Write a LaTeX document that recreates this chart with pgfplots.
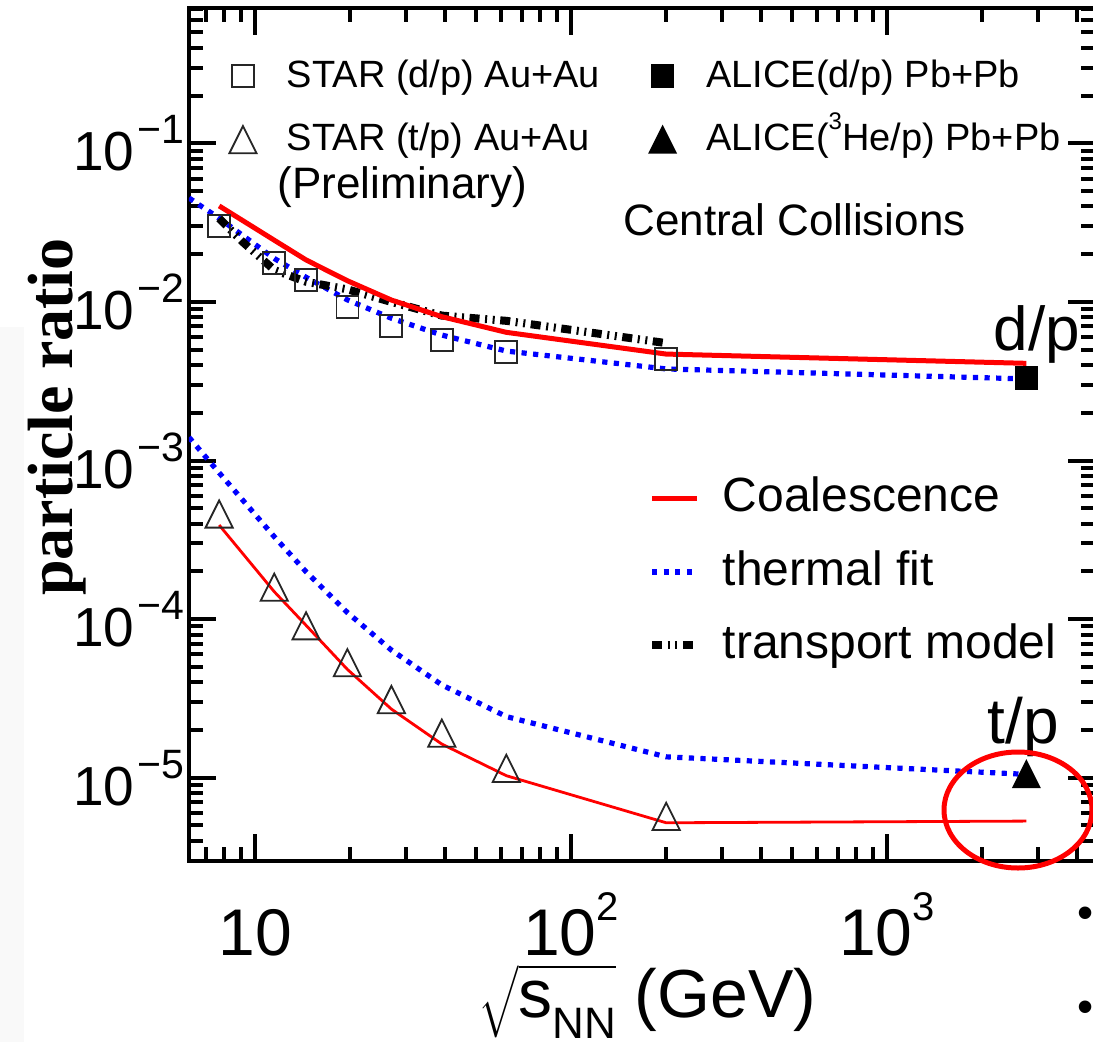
\documentclass[border=0pt]{standalone}
\usepackage{pgfplots}
\pgfplotsset{compat=1.18}
\usepackage{fontspec}
\setmainfont{Liberation Sans}
\newfontfamily\timesfont{Liberation Serif}

% ROOT-style triangles: base corners at (-r,-r) and (r,-r), apex at (0,r)
\pgfdeclareplotmark{rtri}{%
  \pgfpathmoveto{\pgfqpoint{-\pgfplotmarksize}{-\pgfplotmarksize}}%
  \pgfpathlineto{\pgfqpoint{\pgfplotmarksize}{-\pgfplotmarksize}}%
  \pgfpathlineto{\pgfqpoint{0pt}{\pgfplotmarksize}}%
  \pgfpathclose
  \pgfusepathqstroke}
\pgfdeclareplotmark{rtri*}{%
  \pgfpathmoveto{\pgfqpoint{-\pgfplotmarksize}{-\pgfplotmarksize}}%
  \pgfpathlineto{\pgfqpoint{\pgfplotmarksize}{-\pgfplotmarksize}}%
  \pgfpathlineto{\pgfqpoint{0pt}{\pgfplotmarksize}}%
  \pgfpathclose
  \pgfusepathqfillstroke}

\newcommand{\ysup}[1]{\hspace{0.8pt}\raisebox{6.75pt}{\fontsize{10.25}{11}\selectfont#1}}
\newcommand{\xsup}[1]{\raisebox{8.75pt}{\fontsize{10}{11}\selectfont#1}}

\definecolor{fitblue}{RGB}{0,0,255}
\definecolor{coalred}{RGB}{255,0,0}

\tikzset{
  thermal/.style={fitblue, line width=1.3pt, dash pattern=on 1.3pt off 1.6pt},
  coal/.style={coalred, line width=1.25pt},
  transport/.style={black, line width=2pt,
    dash pattern=on 2.5pt off 1.4pt on 0.5pt off 1.4pt on 0.5pt off 1.4pt},
}

\begin{document}
\begin{tikzpicture}
% faint strip along the left border
\fill[black!2.5] (-47.25pt,-45.25pt) rectangle (-41.25pt,133.5pt);

\begin{axis}[
  at={(0pt,0pt)}, anchor=south west,
  scale only axis, width=226.5pt, height=213.25pt,
  xmode=log, ymode=log,
  xmin=6.18, xmax=4550, ymin=2.985e-6, ymax=0.713,
  axis line style={line width=1pt},
  tick style={black, line width=1pt},
  major tick length=6.75pt, minor tick length=3.5pt,
  tick align=inside,
  xtick pos=both, ytick pos=both,
  xticklabel pos=lower, yticklabel pos=left,
  xtick={10,100,1000},
  xticklabels={10, 10\xsup{2}, 10\xsup{3}},
  minor xtick={7,8,9,20,30,40,50,60,70,80,90,200,300,400,500,600,700,800,900,2000,3000,4000},
  ytick={1e-5,1e-4,1e-3,1e-2,1e-1},
  yticklabels={10\ysup{−5}, 10\ysup{−4}, 10\ysup{−3}, 10\ysup{−2}, 10\ysup{−1}},
  minor ytick={3e-6,4e-6,5e-6,6e-6,7e-6,8e-6,9e-6,
    2e-5,3e-5,4e-5,5e-5,6e-5,7e-5,8e-5,9e-5,
    2e-4,3e-4,4e-4,5e-4,6e-4,7e-4,8e-4,9e-4,
    2e-3,3e-3,4e-3,5e-3,6e-3,7e-3,8e-3,9e-3,
    2e-2,3e-2,4e-2,5e-2,6e-2,7e-2,8e-2,9e-2,
    2e-1,3e-1,4e-1,5e-1,6e-1,7e-1},
  xticklabel style={font=\fontsize{16.5}{18}\selectfont, anchor=base, inner sep=0pt, yshift=-23.5pt},
  yticklabel style={font=\fontsize{13.75}{15}\selectfont, anchor=east, inner sep=0pt, xshift=-1pt},
  legend columns=2,
  legend style={
    at={(0.04459,0.94021)}, anchor=north west,
    draw=none, fill=none, inner sep=0pt, outer sep=0pt,
    column sep=7.6pt, row sep=6.9pt,
    font=\fontsize{9.5}{11}\selectfont,
    cells={anchor=base west},
    nodes={inner sep=0pt, text height=7pt, text depth=2pt},
    /tikz/every even column/.append style={nodes={yshift=-2.75pt}},
  },
]

% STAR d/p, Au+Au
\addplot[only marks, mark=square, mark size=2.75pt,
  mark options={black!85, line width=0.45pt}] table {
x y
7.7 0.0302
11.5 0.0175
14.5 0.0137
19.6 0.00931
27 0.00706
39 0.00577
62.4 0.00483
200 0.00436
};
\addlegendentry{\makebox[83pt][l]{STAR (d/p) Au+Au}}
% ALICE d/p, Pb+Pb
\addplot[only marks, mark=square*, mark size=2.75pt,
  mark options={black, fill=black}] table {
x y
2760 0.00331
};
\addlegendentry{ALICE(d/p) Pb+Pb}
% STAR t/p, Au+Au
\addplot[only marks, mark=rtri, mark size=3.4pt,
  mark options={black!85, line width=0.45pt}] table {
x y
7.7 4.60e-4
11.5 1.59e-4
14.5 9.08e-5
19.6 5.31e-5
27 3.11e-5
39 1.91e-5
62.4 1.146e-5
200 5.71e-6
};
\addlegendentry{\makebox[83pt][l]{STAR (t/p) Au+Au}}
% ALICE 3He/p, Pb+Pb
\addplot[only marks, mark=rtri*, mark size=3.3pt,
  mark options={black, fill=black}] table {
x y
2760 1.054e-5
};
\addlegendentry{ALICE(\raisebox{5.25pt}{\fontsize{6}{7}\selectfont 3}He/p) Pb+Pb}

% thermal fit
\addplot[forget plot, thermal] table {
x y
6.18 0.0452
7.7 0.0337
11.5 0.0188
14.5 0.0143
19.6 0.0103
27 0.00789
39 0.00618
62.4 0.0049
200 0.00378
2760 0.00327
};
\addplot[forget plot, thermal] table {
x y
6.18 1.40e-3
7.7 8.37e-4
11.5 3.31e-4
14.5 1.99e-4
19.6 1.10e-4
27 6.38e-5
39 3.85e-5
62.4 2.43e-5
200 1.355e-5
2760 1.05e-5
};
% transport model
\addplot[forget plot, transport] table {
x y
7.7 0.0336
9.2 0.0236
11.5 0.0159
14.5 0.0134
19.6 0.0120
27 0.0100
39 0.0082
62.4 0.0076
200 0.0055
};
% coalescence
\addplot[forget plot, coal] table {
x y
7.7 0.0403
11.5 0.0245
14.5 0.0184
19.6 0.0136
27 0.01028
39 0.00807
62.4 0.00643
200 0.00469
2760 0.00410
};
\addplot[forget plot, coalred, line width=0.7pt] table {
x y
7.7 3.92e-4
11.5 1.49e-4
14.5 9.14e-5
19.6 4.82e-5
27 2.71e-5
39 1.63e-5
62.4 1.03e-5
200 5.20e-6
2760 5.33e-6
};
\end{axis}

% model key
\draw[coal] (115.75pt,90.75pt) -- (127pt,90.75pt);
\draw[thermal] (115.75pt,72.25pt) -- (127pt,72.25pt);
\draw[transport] (115.75pt,54pt) -- (127pt,54pt);
\node[anchor=base west, inner sep=0pt, font=\fontsize{12}{14}\selectfont] at (133.25pt,87.5pt) {Coalescence};
\node[anchor=base west, inner sep=0pt, font=\fontsize{12}{14}\selectfont] at (133.25pt,69pt) {thermal fit};
\node[anchor=base west, inner sep=0pt, font=\fontsize{12}{14}\selectfont] at (133.25pt,50.75pt) {transport model};

% annotations
\node[anchor=base west, inner sep=0pt, font=\fontsize{11}{13}\selectfont] at (22pt,165.6pt) {(Preliminary)};
\node[anchor=base west, inner sep=0pt, font=\fontsize{11}{13}\selectfont] at (108.4pt,156.5pt) {Central Collisions};
\node[anchor=base west, inner sep=0pt, font=\fontsize{15.5}{18}\selectfont] at (201pt,127.75pt) {d/p};
\node[anchor=base west, inner sep=0pt, font=\fontsize{16}{18}\selectfont] at (199.5pt,29.5pt) {t/p};
\draw[coalred, line width=1.25pt] (207.25pt,12.75pt) ellipse [x radius=18.5pt, y radius=14.5pt];

% axis titles
\node[rotate=90, anchor=base, inner sep=0pt, font=\fontsize{16}{18}\timesfont\bfseries] at (-29.25pt,111pt) {particle ratio};
\node[anchor=base, inner sep=0pt, font=\fontsize{17}{20}\selectfont] at (114.6pt,-39pt)
  {$\sqrt{\rule{0pt}{11.8pt}\mbox{s\raisebox{-5.25pt}{\fontsize{11}{12}\selectfont NN}}}$ (GeV)};

% bullets at the right border
\node[inner sep=0pt, font=\fontsize{11.5}{12}\selectfont] at (224.1pt,-14.25pt) {•};
\node[inner sep=0pt, font=\fontsize{11.5}{12}\selectfont] at (224.1pt,-37.75pt) {•};

\pgfresetboundingbox
\path[use as bounding box] (-47.25pt,-45.25pt) rectangle (226pt,215.25pt);
\end{tikzpicture}
\end{document}
